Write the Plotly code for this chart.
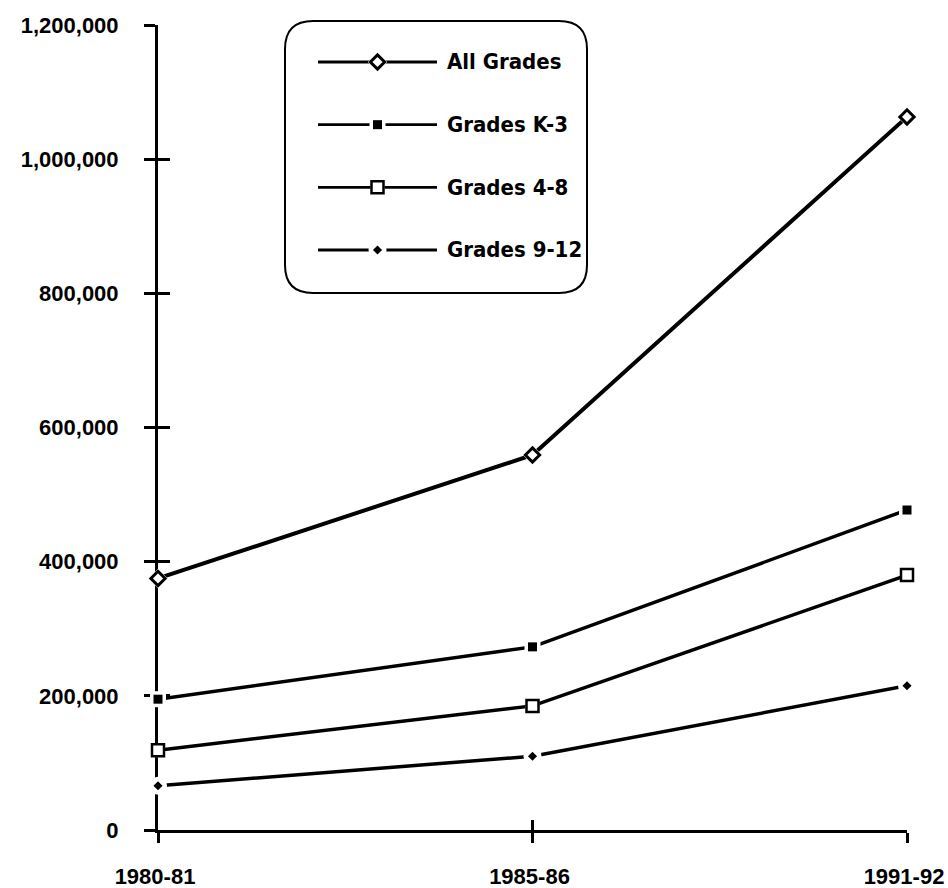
import plotly.graph_objects as go

# School years on the horizontal axis
years = ["1980-81", "1985-86", "1991-92"]

# Enrollment counts per grade band
all_grades = [375000, 559000, 1063000]
grades_k3 = [195000, 273000, 477000]
grades_4_8 = [119000, 185000, 380000]
grades_9_12 = [66000, 110000, 215000]

series_names = ["All Grades", "Grades K-3", "Grades 4-8", "Grades 9-12"]

y_ticks = [0, 200000, 400000, 600000, 800000, 1000000, 1200000]
y_tick_text = ["0", "200,000", "400,000", "600,000", "800,000", "1,000,000", "1,200,000"]

INK = "#000000"

# marker style per series
styles = {
    "All Grades": dict(symbol="diamond", size=11, fill="white", border=3, lw=4.0,
                       halo="diamond", halo_size=15),
    "Grades K-3": dict(symbol="square", size=9, fill=INK, border=0, lw=3.5,
                       halo="square", halo_size=16),
    "Grades 4-8": dict(symbol="square", size=12, fill="white", border=2.5, lw=3.5,
                       halo="square", halo_size=14),
    "Grades 9-12": dict(symbol="diamond", size=7, fill=INK, border=0, lw=3.5,
                        halo="circle", halo_size=18),
}
values = {
    "All Grades": all_grades,
    "Grades K-3": grades_k3,
    "Grades 4-8": grades_4_8,
    "Grades 9-12": grades_9_12,
}

fig = go.Figure()


def add_series(x, y, name, xaxis="x", yaxis="y", lw_scale=1.0):
    st = styles[name]
    fig.add_trace(go.Scatter(
        x=x, y=y, mode="lines", xaxis=xaxis, yaxis=yaxis,
        line=dict(color=INK, width=st["lw"] * lw_scale),
        showlegend=False, hoverinfo="skip", cliponaxis=False))


def add_marks(x, y, name, xaxis="x", yaxis="y"):
    st = styles[name]
    # white halo leaves a small gap in the line around each marker
    fig.add_trace(go.Scatter(
        x=x, y=y, mode="markers", xaxis=xaxis, yaxis=yaxis,
        marker=dict(symbol=st["halo"], size=st["halo_size"], color="white",
                    line=dict(width=0)),
        showlegend=False, hoverinfo="skip", cliponaxis=False))
    fig.add_trace(go.Scatter(
        x=x, y=y, mode="markers", xaxis=xaxis, yaxis=yaxis, name=name,
        marker=dict(symbol=st["symbol"], size=st["size"], color=st["fill"],
                    line=dict(color=INK, width=st["border"])),
        showlegend=False, cliponaxis=False))


for name in series_names:
    add_series(years, values[name], name)
for name in series_names:
    add_marks(years, values[name], name)

# companion axes that draw the inner half of each tick mark
fig.add_trace(go.Scatter(x=years, y=[0, 0, 0], mode="markers", xaxis="x3", yaxis="y3",
                         marker=dict(opacity=0), showlegend=False, hoverinfo="skip"))

# key: one short sample line per series, marker in the middle
for row, name in enumerate(series_names):
    add_series([0, 1], [row, row], name, xaxis="x2", yaxis="y2", lw_scale=0.8)
for row, name in enumerate(series_names):
    add_marks([0.5], [row], name, xaxis="x2", yaxis="y2")

# plot-area geometry in pixels
W, H = 948, 888
L_PX, R_PX, T_PX, B_PX = 158, 907, 25, 830
PW, PH = R_PX - L_PX, B_PX - T_PX


def paper_x(px):
    return (px - L_PX) / PW


def paper_y(py):
    return (B_PX - py) / PH


# rounded frame around the key
bx0, bx1, by0, by1, rad = 285, 587, 21, 293, 28
xl, xr = paper_x(bx0), paper_x(bx1)
yt, yb = paper_y(by0), paper_y(by1)
rx, ry = rad / PW, rad / PH
frame = (f"M {xl + rx},{yt} L {xr - rx},{yt} Q {xr},{yt} {xr},{yt - ry} "
         f"L {xr},{yb + ry} Q {xr},{yb} {xr - rx},{yb} "
         f"L {xl + rx},{yb} Q {xl},{yb} {xl},{yb + ry} "
         f"L {xl},{yt - ry} Q {xl},{yt} {xl + rx},{yt} Z")

tick_font = dict(family="Liberation Sans, Arial, sans-serif", size=22,
                 color=INK, weight="bold")
key_font = dict(family="DejaVu Sans Condensed, Liberation Sans, sans-serif",
                size=22, color=INK, weight="bold")

annotations = [
    dict(x=1, y=row, xref="x2", yref="y2", text=name, showarrow=False,
         xanchor="left", yanchor="middle", xshift=8, font=key_font)
    for row, name in enumerate(series_names)
]

key_row_top, key_row_bottom = 62, 250
row_h = (key_row_bottom - key_row_top) / 3

fig.update_layout(
    width=W, height=H,
    margin=dict(l=L_PX, r=W - R_PX, t=T_PX, b=H - B_PX, pad=0, autoexpand=False),
    paper_bgcolor="white", plot_bgcolor="white",
    showlegend=False,
    xaxis=dict(type="category", categoryorder="array", categoryarray=years,
               range=[0, 2], showgrid=False, zeroline=False, automargin=False,
               showline=True, linecolor=INK, linewidth=3,
               ticks="outside", ticklen=10, tickwidth=2.5, tickcolor=INK,
               tickfont=tick_font, ticklabelstandoff=15, ticklabelshift=-3,
               layer="below traces", fixedrange=True),
    yaxis=dict(range=[0, 1200000], tickvals=y_ticks, ticktext=y_tick_text,
               showgrid=False, zeroline=False, automargin=False,
               showline=True, linecolor=INK, linewidth=3,
               ticks="outside", ticklen=11, tickwidth=2.5, tickcolor=INK,
               tickfont=tick_font, ticklabelstandoff=21, layer="below traces",
               fixedrange=True),
    xaxis3=dict(type="category", categoryorder="array", categoryarray=years,
                range=[0, 2], overlaying="x", anchor="y3", side="bottom",
                showgrid=False, zeroline=False, showline=False, automargin=False,
                ticks="inside", ticklen=10, tickwidth=2.5, tickcolor=INK,
                showticklabels=False, layer="below traces", fixedrange=True),
    yaxis3=dict(range=[0, 1200000], tickvals=y_ticks, overlaying="y", anchor="x3",
                side="left", showgrid=False, zeroline=False, showline=False,
                automargin=False,
                ticks="inside", ticklen=12, tickwidth=2.5, tickcolor=INK,
                showticklabels=False, layer="below traces", fixedrange=True),
    xaxis2=dict(domain=[paper_x(318), paper_x(437)], range=[0, 1], anchor="y2",
                visible=False, fixedrange=True),
    yaxis2=dict(domain=[paper_y(key_row_bottom + row_h / 2), paper_y(key_row_top - row_h / 2)],
                range=[3.5, -0.5], anchor="x2", visible=False, fixedrange=True),
    shapes=[dict(type="path", path=frame, xref="paper", yref="paper",
                 line=dict(color=INK, width=2), fillcolor="rgba(0,0,0,0)", layer="above")],
    annotations=annotations,
)

fig.write_html("out.html")
